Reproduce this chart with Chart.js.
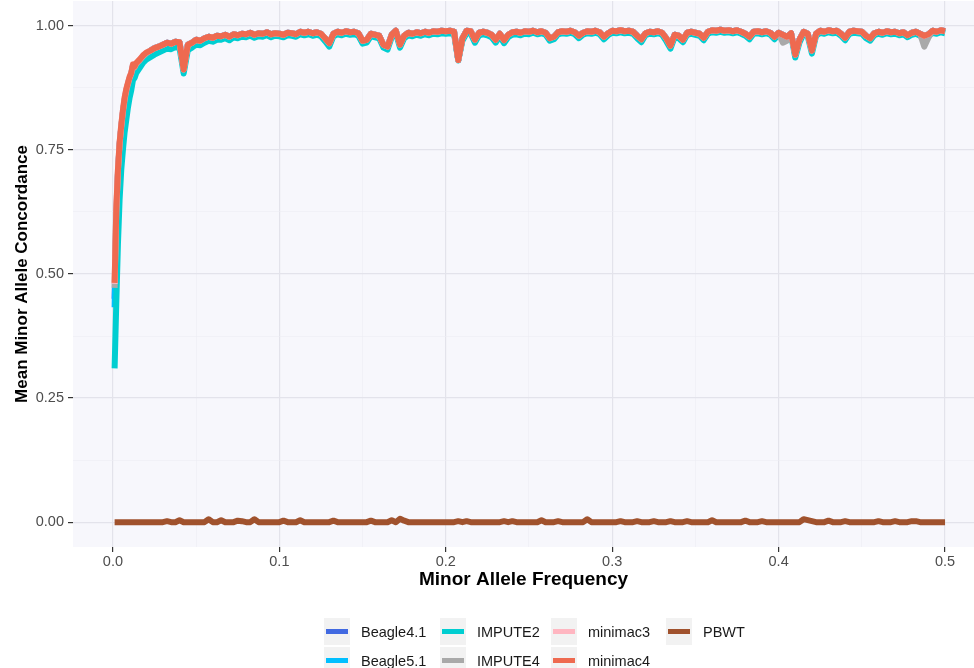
<!DOCTYPE html>
<html>
<head>
<meta charset="utf-8">
<title>Mean Minor Allele Concordance by Minor Allele Frequency</title>
<script src="https://cdn.jsdelivr.net/npm/chart.js@4.4.1/dist/chart.umd.min.js"></script>
<style>
  html, body { margin: 0; padding: 0; background: #ffffff; }
  #wrap { position: relative; width: 974px; height: 668px; overflow: hidden; }
  #c { position: absolute; left: 0; top: 0; }
  .key { position: absolute; width: 26px; height: 27px; background: #F2F2F2; }
  .key i { position: absolute; left: 2px; right: 2px; top: 11px; height: 5px; }
  .lab { position: absolute; font: 14.5px "Liberation Sans", Arial, sans-serif; color: #1a1a1a;
         line-height: 16px; white-space: nowrap; }
</style>
</head>
<body>
<div id="wrap">
  <canvas id="c" width="974" height="668"></canvas>
  <div id="legend"></div>
</div>
<script>
// Minor allele frequency bins (x values shared by every series)
const maf = [
  0.001,0.002,0.003,0.004,0.005,0.006,0.007,0.008,0.009,0.010,0.011,0.012,0.013,0.014,0.016,0.018,0.020,
  0.0225,0.025,0.0275,0.03,0.0325,0.035,0.0375,0.04,0.0425,0.045,
  0.0475,0.05,0.0525,0.055,0.0575,0.06,0.0625,0.065,0.0675,0.07,
  0.0725,0.075,0.0775,0.08,0.0825,0.085,0.0875,0.09,0.0925,0.095,
  0.0975,0.1,0.1025,0.105,0.1075,0.11,0.1125,0.115,0.1175,0.12,
  0.1225,0.125,0.1275,0.13,0.1325,0.135,0.1375,0.14,0.1425,0.145,
  0.1475,0.15,0.1525,0.155,0.1575,0.16,0.1625,0.165,0.1675,0.17,
  0.1725,0.175,0.1775,0.18,0.1825,0.185,0.1875,0.19,0.1925,0.195,
  0.1975,0.2,0.2025,0.205,0.2075,0.21,0.2125,0.215,0.2175,0.22,
  0.2225,0.225,0.2275,0.23,0.2325,0.235,0.2375,0.24,0.2425,0.245,
  0.2475,0.25,0.2525,0.255,0.2575,0.26,0.2625,0.265,0.2675,0.27,
  0.2725,0.275,0.2775,0.28,0.2825,0.285,0.2875,0.29,0.2925,0.295,
  0.2975,0.3,0.3025,0.305,0.3075,0.31,0.3125,0.315,0.3175,0.32,
  0.3225,0.325,0.3275,0.33,0.3325,0.335,0.3375,0.34,0.3425,0.345,
  0.3475,0.35,0.3525,0.355,0.3575,0.36,0.3625,0.365,0.3675,0.37,
  0.3725,0.375,0.3775,0.38,0.3825,0.385,0.3875,0.39,0.3925,0.395,
  0.3975,0.4,0.4025,0.405,0.4075,0.41,0.4125,0.415,0.4175,0.42,
  0.4225,0.425,0.4275,0.43,0.4325,0.435,0.4375,0.44,0.4425,0.445,
  0.4475,0.45,0.4525,0.455,0.4575,0.46,0.4625,0.465,0.4675,0.47,
  0.4725,0.475,0.4775,0.48,0.4825,0.485,0.4875,0.49,0.4925,0.495,
  0.4975,0.5
];

// Mean minor allele concordance per tool
const beagle41 = [
  0.45,0.61,0.70,0.76,0.795,0.825,0.85,0.868,0.882,0.894,0.903,0.919,0.916,0.923,0.93,0.938,0.944,
  0.950,0.955,0.958,0.962,0.966,0.964,0.968,0.967,0.912,0.962,
  0.966,0.972,0.970,0.975,0.978,0.976,0.980,0.979,0.982,0.978,
  0.983,0.981,0.984,0.983,0.986,0.982,0.985,0.984,0.987,0.983,
  0.985,0.984,0.982,0.986,0.985,0.983,0.988,0.986,0.988,0.985,
  0.987,0.984,0.975,0.965,0.984,0.988,0.986,0.989,0.987,0.988,
  0.985,0.970,0.972,0.984,0.982,0.980,0.962,0.958,0.982,0.990,
  0.962,0.980,0.986,0.984,0.987,0.985,0.988,0.986,0.989,0.988,
  0.990,0.989,0.990,0.988,0.931,0.975,0.990,0.989,0.972,0.986,
  0.988,0.986,0.982,0.972,0.984,0.971,0.982,0.987,0.988,0.986,
  0.989,0.988,0.990,0.987,0.989,0.986,0.975,0.978,0.987,0.989,
  0.988,0.990,0.987,0.980,0.986,0.989,0.988,0.990,0.987,0.978,
  0.985,0.990,0.989,0.991,0.989,0.990,0.988,0.980,0.973,0.985,
  0.988,0.987,0.989,0.986,0.975,0.960,0.982,0.980,0.972,0.986,
  0.988,0.986,0.984,0.976,0.988,0.991,0.990,0.992,0.990,0.991,
  0.989,0.991,0.988,0.984,0.978,0.988,0.989,0.987,0.989,0.986,
  0.978,0.986,0.982,0.978,0.985,0.942,0.972,0.988,0.984,0.950,
  0.984,0.990,0.988,0.991,0.989,0.990,0.984,0.976,0.988,0.990,
  0.989,0.988,0.980,0.975,0.985,0.988,0.986,0.989,0.987,0.988,
  0.985,0.987,0.981,0.986,0.988,0.984,0.980,0.983,0.990,0.988,
  0.991,0.989
];
const beagle51 = [
  0.433,0.60,0.70,0.76,0.795,0.825,0.85,0.868,0.882,0.894,0.903,0.919,0.916,0.923,0.93,0.938,0.944,
  0.950,0.955,0.958,0.962,0.966,0.964,0.968,0.967,0.912,0.962,
  0.966,0.972,0.970,0.975,0.978,0.976,0.980,0.979,0.982,0.978,
  0.983,0.981,0.984,0.983,0.986,0.982,0.985,0.984,0.987,0.983,
  0.985,0.984,0.982,0.986,0.985,0.983,0.988,0.986,0.988,0.985,
  0.987,0.984,0.975,0.965,0.984,0.988,0.986,0.989,0.987,0.988,
  0.985,0.970,0.972,0.984,0.982,0.980,0.962,0.958,0.982,0.990,
  0.962,0.980,0.986,0.984,0.987,0.985,0.988,0.986,0.989,0.988,
  0.990,0.989,0.990,0.988,0.931,0.975,0.990,0.989,0.972,0.986,
  0.988,0.986,0.982,0.972,0.984,0.971,0.982,0.987,0.988,0.986,
  0.989,0.988,0.990,0.987,0.989,0.986,0.975,0.978,0.987,0.989,
  0.988,0.990,0.987,0.980,0.986,0.989,0.988,0.990,0.987,0.978,
  0.985,0.990,0.989,0.991,0.989,0.990,0.988,0.980,0.973,0.985,
  0.988,0.987,0.989,0.986,0.975,0.960,0.982,0.980,0.972,0.986,
  0.988,0.986,0.984,0.976,0.988,0.991,0.990,0.992,0.990,0.991,
  0.989,0.991,0.988,0.984,0.978,0.988,0.989,0.987,0.989,0.986,
  0.978,0.986,0.982,0.978,0.985,0.942,0.972,0.988,0.984,0.950,
  0.984,0.990,0.988,0.991,0.989,0.990,0.984,0.976,0.988,0.990,
  0.989,0.988,0.980,0.975,0.985,0.988,0.986,0.989,0.987,0.988,
  0.985,0.987,0.981,0.986,0.988,0.984,0.980,0.983,0.990,0.988,
  0.991,0.989
];
const impute2 = [
  0.31,0.44,0.56,0.65,0.71,0.75,0.785,0.81,0.835,0.855,0.87,0.89,0.895,0.905,0.915,0.925,0.932,
  0.937,0.942,0.946,0.950,0.954,0.953,0.957,0.956,0.904,0.951,
  0.956,0.962,0.961,0.966,0.970,0.968,0.972,0.972,0.975,0.971,
  0.977,0.975,0.978,0.977,0.980,0.976,0.979,0.978,0.981,0.977,
  0.980,0.979,0.977,0.981,0.980,0.978,0.983,0.981,0.983,0.980,
  0.982,0.979,0.969,0.958,0.979,0.983,0.981,0.984,0.982,0.983,
  0.980,0.964,0.966,0.979,0.977,0.975,0.956,0.952,0.977,0.985,
  0.956,0.975,0.981,0.979,0.982,0.980,0.983,0.981,0.984,0.983,
  0.985,0.984,0.985,0.983,0.930,0.970,0.985,0.984,0.966,0.981,
  0.983,0.981,0.977,0.966,0.979,0.965,0.977,0.982,0.983,0.981,
  0.984,0.983,0.986,0.983,0.985,0.982,0.970,0.973,0.983,0.985,
  0.984,0.986,0.983,0.975,0.982,0.985,0.984,0.986,0.983,0.973,
  0.981,0.986,0.985,0.987,0.985,0.986,0.984,0.975,0.967,0.981,
  0.984,0.983,0.985,0.982,0.969,0.954,0.977,0.975,0.967,0.982,
  0.984,0.982,0.980,0.971,0.984,0.987,0.986,0.988,0.986,0.987,
  0.985,0.987,0.984,0.980,0.973,0.984,0.985,0.983,0.985,0.982,
  0.973,0.982,0.977,0.972,0.981,0.936,0.966,0.984,0.979,0.944,
  0.980,0.986,0.984,0.987,0.985,0.986,0.980,0.971,0.984,0.986,
  0.985,0.984,0.975,0.970,0.981,0.984,0.982,0.985,0.983,0.984,
  0.981,0.983,0.977,0.982,0.984,0.980,0.976,0.979,0.986,0.984,
  0.987,0.985
];
const impute4 = [
  0.472,0.625,0.705,0.76,0.795,0.825,0.85,0.868,0.882,0.894,0.903,0.919,0.916,0.923,0.93,0.938,0.944,
  0.950,0.955,0.958,0.962,0.966,0.964,0.968,0.967,0.912,0.962,
  0.966,0.972,0.970,0.975,0.978,0.976,0.980,0.979,0.982,0.978,
  0.983,0.981,0.984,0.983,0.986,0.982,0.985,0.984,0.987,0.983,
  0.985,0.984,0.982,0.986,0.985,0.983,0.988,0.986,0.988,0.985,
  0.987,0.984,0.975,0.965,0.984,0.988,0.986,0.989,0.987,0.988,
  0.985,0.970,0.972,0.984,0.982,0.980,0.962,0.958,0.982,0.990,
  0.962,0.980,0.986,0.984,0.987,0.985,0.988,0.986,0.989,0.988,
  0.990,0.989,0.990,0.988,0.931,0.975,0.990,0.989,0.972,0.986,
  0.988,0.986,0.982,0.972,0.984,0.971,0.982,0.987,0.988,0.986,
  0.989,0.988,0.990,0.987,0.989,0.986,0.975,0.978,0.987,0.989,
  0.988,0.990,0.987,0.980,0.986,0.989,0.988,0.990,0.987,0.978,
  0.985,0.990,0.989,0.991,0.989,0.990,0.988,0.980,0.973,0.985,
  0.988,0.987,0.989,0.986,0.975,0.960,0.982,0.980,0.972,0.986,
  0.988,0.986,0.984,0.976,0.988,0.991,0.990,0.992,0.990,0.991,
  0.989,0.991,0.988,0.984,0.978,0.988,0.989,0.987,0.989,0.986,
  0.978,0.986,0.966,0.970,0.985,0.942,0.972,0.988,0.984,0.950,
  0.984,0.990,0.988,0.991,0.989,0.990,0.984,0.976,0.988,0.990,
  0.989,0.988,0.980,0.975,0.985,0.988,0.986,0.989,0.987,0.988,
  0.985,0.987,0.981,0.986,0.988,0.984,0.958,0.976,0.990,0.988,
  0.991,0.989
];
const minimac3 = [
  0.48,0.63,0.71,0.765,0.80,0.83,0.855,0.872,0.885,0.897,0.905,0.922,0.918,0.925,0.932,0.94,0.946,
  0.950,0.955,0.958,0.962,0.966,0.964,0.968,0.967,0.912,0.962,
  0.966,0.972,0.970,0.975,0.978,0.976,0.980,0.979,0.982,0.978,
  0.983,0.981,0.984,0.983,0.986,0.982,0.985,0.984,0.987,0.983,
  0.985,0.984,0.982,0.986,0.985,0.983,0.988,0.986,0.988,0.985,
  0.987,0.984,0.975,0.965,0.984,0.988,0.986,0.989,0.987,0.988,
  0.985,0.970,0.972,0.984,0.982,0.980,0.962,0.958,0.982,0.990,
  0.962,0.980,0.986,0.984,0.987,0.985,0.988,0.986,0.989,0.988,
  0.990,0.989,0.990,0.988,0.931,0.975,0.990,0.989,0.972,0.986,
  0.988,0.986,0.982,0.972,0.984,0.971,0.982,0.987,0.988,0.986,
  0.989,0.988,0.990,0.987,0.989,0.986,0.975,0.978,0.987,0.989,
  0.988,0.990,0.987,0.980,0.986,0.989,0.988,0.990,0.987,0.978,
  0.985,0.990,0.989,0.991,0.989,0.990,0.988,0.980,0.973,0.985,
  0.988,0.987,0.989,0.986,0.975,0.960,0.982,0.980,0.972,0.986,
  0.988,0.986,0.984,0.976,0.988,0.991,0.990,0.992,0.990,0.991,
  0.989,0.991,0.988,0.984,0.978,0.988,0.989,0.987,0.989,0.986,
  0.978,0.986,0.982,0.978,0.985,0.942,0.972,0.988,0.984,0.950,
  0.984,0.990,0.988,0.991,0.989,0.990,0.984,0.976,0.988,0.990,
  0.989,0.988,0.980,0.975,0.985,0.988,0.986,0.989,0.987,0.988,
  0.985,0.987,0.981,0.986,0.988,0.984,0.980,0.983,0.990,0.988,
  0.991,0.989
];
const minimac4 = [
  0.482,0.63,0.71,0.765,0.80,0.83,0.855,0.872,0.885,0.897,0.905,0.922,0.918,0.925,0.932,0.94,0.946,
  0.950,0.955,0.958,0.962,0.966,0.964,0.968,0.967,0.912,0.962,
  0.966,0.972,0.970,0.975,0.978,0.976,0.980,0.979,0.982,0.978,
  0.983,0.981,0.984,0.983,0.986,0.982,0.985,0.984,0.987,0.983,
  0.985,0.984,0.982,0.986,0.985,0.983,0.988,0.986,0.988,0.985,
  0.987,0.984,0.975,0.965,0.984,0.988,0.986,0.989,0.987,0.988,
  0.985,0.970,0.972,0.984,0.982,0.980,0.962,0.958,0.982,0.990,
  0.962,0.980,0.986,0.984,0.987,0.985,0.988,0.986,0.989,0.988,
  0.990,0.989,0.990,0.988,0.931,0.975,0.990,0.989,0.972,0.986,
  0.988,0.986,0.982,0.972,0.984,0.971,0.982,0.987,0.988,0.986,
  0.989,0.988,0.990,0.987,0.989,0.986,0.975,0.978,0.987,0.989,
  0.988,0.990,0.987,0.980,0.986,0.989,0.988,0.990,0.987,0.978,
  0.985,0.990,0.989,0.991,0.989,0.990,0.988,0.980,0.973,0.985,
  0.988,0.987,0.989,0.986,0.975,0.960,0.982,0.980,0.972,0.986,
  0.988,0.986,0.984,0.976,0.988,0.991,0.990,0.992,0.990,0.991,
  0.989,0.991,0.988,0.984,0.978,0.988,0.989,0.987,0.989,0.986,
  0.978,0.986,0.982,0.978,0.985,0.942,0.972,0.988,0.984,0.950,
  0.984,0.990,0.988,0.991,0.989,0.990,0.984,0.976,0.988,0.990,
  0.989,0.988,0.980,0.975,0.985,0.988,0.986,0.989,0.987,0.988,
  0.985,0.987,0.981,0.986,0.988,0.984,0.980,0.983,0.990,0.988,
  0.991,0.989
];
const pbwt = [
  0,0,0,0,0,0,0,0,0,0,0,0,0,0,0,0,0,
  0,0,0,0,0.002,0,0,0.004,0,0,
  0,0,0,0,0.006,0,0,0.004,0,0,
  0,0.003,0.002,0,0,0.006,0,0,0,0,
  0,0,0.003,0,0,0,0.004,0,0,0,
  0,0,0,0,0.003,0,0,0,0,0,
  0,0,0,0.003,0,0,0,0,0.004,0,
  0.007,0.003,0,0,0,0,0,0,0,0,
  0,0,0,0,0.002,0,0.002,0,0,0,
  0,0,0,0,0,0.002,0,0.002,0,0,
  0,0,0,0,0.004,0,0,0,0.002,0,
  0,0,0,0,0,0.006,0,0,0,0,
  0,0,0,0.002,0,0,0,0.002,0,0,
  0,0.002,0,0,0,0.002,0,0,0,0.002,
  0,0,0,0,0,0.004,0,0,0,0,
  0,0,0,0.003,0,0,0,0.002,0,0,
  0,0,0,0,0,0,0,0.006,0.004,0.002,
  0,0,0,0.003,0,0,0,0.002,0,0,
  0,0,0,0,0,0.002,0,0,0,0.002,
  0,0,0,0.002,0.002,0,0,0,0,0,
  0,0
];

const seriesNames = ['Beagle4.1', 'Beagle5.1', 'IMPUTE2', 'IMPUTE4', 'minimac3', 'minimac4', 'PBWT'];
const seriesValues = [beagle41, beagle51, impute2, impute4, minimac3, minimac4, pbwt];
const seriesColors = ['#4169E1', '#00BFFF', '#00CED1', '#A9A9A9', '#FFB6C1', '#EE6A50', '#A0522D'];

// Axis ticks: labelled (major) values and unlabelled (minor) grid positions
const xTicks = [0, 0.1, 0.2, 0.3, 0.4, 0.5];
const xTickLabels = ['0.0', '0.1', '0.2', '0.3', '0.4', '0.5'];
const xMinor = [0.05, 0.15, 0.25, 0.35, 0.45];
const yTicks = [0, 0.25, 0.5, 0.75, 1];
const yTickLabels = ['0.00', '0.25', '0.50', '0.75', '1.00'];
const yMinor = [0.125, 0.375, 0.625, 0.875];

const FONT = '"Liberation Sans", Arial, Helvetica, sans-serif';
Chart.defaults.font.family = FONT;

const near = (a, b) => Math.abs(a - b) < 1e-9;
const majorIndex = (list, v) => list.findIndex(t => near(t, v));

// gg-style panel background
const panelBg = {
  id: 'panelBg',
  beforeDraw(chart) {
    const { ctx, chartArea: a } = chart;
    ctx.save();
    ctx.fillStyle = '#F7F7FC';
    ctx.fillRect(a.left, a.top, a.right - a.left, a.bottom - a.top);
    ctx.restore();
  }
};

function gridOpts(list) {
  return {
    drawOnChartArea: true,
    drawTicks: true,
    tickLength: 5,
    color: c => majorIndex(list, c.tick.value) >= 0 ? '#E3E3EB' : '#EDEDF4',
    lineWidth: c => majorIndex(list, c.tick.value) >= 0 ? 1.2 : 0.6,
    tickColor: c => majorIndex(list, c.tick.value) >= 0 ? '#333333' : 'rgba(0,0,0,0)',
    tickWidth: 1.2
  };
}

// stacking order: the last tool in the list is painted on top
const datasets = seriesNames.map((name, i) => ({
  label: name,
  data: maf.map((x, j) => ({ x: x, y: seriesValues[i][j] })),
  borderColor: seriesColors[i],
  backgroundColor: seriesColors[i],
  borderWidth: 6,
  pointRadius: 0,
  pointHoverRadius: 0,
  tension: 0,
  fill: false,
  borderJoinStyle: 'round',
  borderCapStyle: 'butt',
  order: seriesNames.length - 1 - i
}));

new Chart(document.getElementById('c'), {
  type: 'line',
  data: { datasets },
  plugins: [panelBg],
  options: {
    responsive: false,
    animation: false,
    devicePixelRatio: 1,
    events: [],
    layout: { padding: { top: 1, left: 0, right: 0, bottom: 76 } },
    plugins: { legend: { display: false }, tooltip: { enabled: false } },
    scales: {
      x: {
        type: 'linear',
        min: -0.024,
        max: 0.5174,
        afterBuildTicks: s => { s.ticks = xTicks.concat(xMinor).sort((a, b) => a - b).map(v => ({ value: v })); },
        afterFit: s => { s.height = 45; s.paddingLeft = 0; s.paddingRight = 0; },
        border: { display: false },
        grid: gridOpts(xTicks),
        ticks: {
          autoSkip: false, maxRotation: 0, padding: 1,
          color: '#4D4D4D', font: { size: 14.5 },
          callback: v => { const k = majorIndex(xTicks, v); return k >= 0 ? xTickLabels[k] : ''; }
        },
        title: {
          display: true, text: 'Minor Allele Frequency', color: '#000000',
          font: { size: 19, weight: 'bold' }, padding: { top: 0, bottom: 1 }
        }
      },
      y: {
        type: 'linear',
        min: -0.05,
        max: 1.05,
        afterBuildTicks: s => { s.ticks = yTicks.concat(yMinor).sort((a, b) => a - b).map(v => ({ value: v })); },
        afterFit: s => { s.width = 73; s.paddingTop = 0; s.paddingBottom = 0; },
        border: { display: false },
        grid: gridOpts(yTicks),
        ticks: {
          autoSkip: false, padding: 4,
          color: '#4D4D4D', font: { size: 14.5 },
          callback: v => { const k = majorIndex(yTicks, v); return k >= 0 ? yTickLabels[k] : ''; }
        },
        title: {
          display: true, text: 'Mean Minor Allele Concordance', color: '#000000',
          font: { size: 17, weight: 'bold' }, padding: { top: 12, bottom: 0 }
        }
      }
    }
  }
});

// Legend: two rows, filled column by column
const legendCols = [324, 440, 551, 666];
const legendRowTops = [618, 647];
const legend = document.getElementById('legend');
seriesNames.forEach((name, i) => {
  const col = Math.floor(i / 2), row = i % 2;
  const left = legendCols[col], top = legendRowTops[row];
  const key = document.createElement('div');
  key.className = 'key';
  key.style.left = left + 'px';
  key.style.top = top + 'px';
  const sw = document.createElement('i');
  sw.style.background = seriesColors[i];
  key.appendChild(sw);
  legend.appendChild(key);
  const lab = document.createElement('div');
  lab.className = 'lab';
  lab.textContent = name;
  lab.style.left = (left + 37) + 'px';
  lab.style.top = (top + 6) + 'px';
  legend.appendChild(lab);
});
</script>
</body>
</html>
